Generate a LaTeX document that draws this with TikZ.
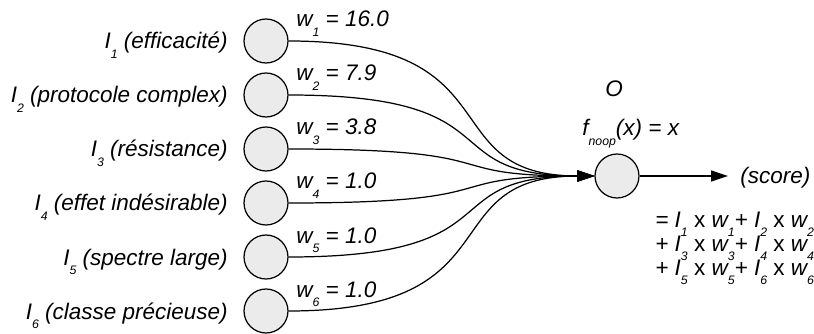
\documentclass[tikz,border=0pt]{standalone}
\usepackage{fontspec}
\setmainfont{Liberation Sans}
\usetikzlibrary{arrows.meta}
\newcommand{\lowidx}[1]{\raisebox{-0.42em}[0pt][0pt]{\fontsize{7}{7}\selectfont #1}}
\tikzset{
  neuron/.style={circle,draw,fill=black!8,line width=0.7pt,minimum size=0.88cm,inner sep=0},
  txt/.style={font=\fontsize{12.8}{14}\selectfont\itshape,inner sep=0},
  link/.style={line width=0.7pt,-{Triangle[length=0.34cm,width=0.22cm]}}
}
\begin{document}
\begin{tikzpicture}[x=0.02cm,y=-0.02cm]
  \useasboundingbox (0,0) rectangle (814,334);
  \foreach \lab/\wt [count=\i] in {efficacité/16.0,protocole complex/7.9,résistance/3.8,effet indésirable/1.0,spectre large/1.0,classe précieuse/1.0}{
    \node[neuron] (I\i) at (266,{41+54*(\i-1)}) {};
    \node[txt,anchor=base east] (L\i) at (228,{49+54*(\i-1)}) {I\lowidx{\i} (\lab)};
    \node[txt,anchor=base west] (W\i) at (296,{27+54*(\i-1)}) {w\lowidx{\i} = \wt};
  }
  \node[neuron] (O) at (617,176) {};
  \node[txt] (ON) at (614,89) {O};
  \node[txt,anchor=base west] (F) at (582,136) {f\lowidx{noop}(x) = x};
  \node[txt,anchor=base west,inner xsep=0.24cm] (S) at (728,184) {(score)};
  \node[txt,anchor=base west] (E1) at (655,227) {= I\lowidx{1} {\upshape x} w\lowidx{1}+ I\lowidx{2} {\upshape x} w\lowidx{2}};
  \node[txt,anchor=base west] (E2) at (655,251) {+ I\lowidx{3} {\upshape x} w\lowidx{3}+ I\lowidx{4} {\upshape x} w\lowidx{4}};
  \node[txt,anchor=base west] (E3) at (655,275) {+ I\lowidx{5} {\upshape x} w\lowidx{5}+ I\lowidx{6} {\upshape x} w\lowidx{6}};
  \foreach \i in {1,...,6}
    \draw[link] (I\i) to[out=0,in=180,out distance=4.6cm,in distance=3.3cm] (O);
  \draw[link] (O) -- (O -| S.west);
\end{tikzpicture}
\end{document}
